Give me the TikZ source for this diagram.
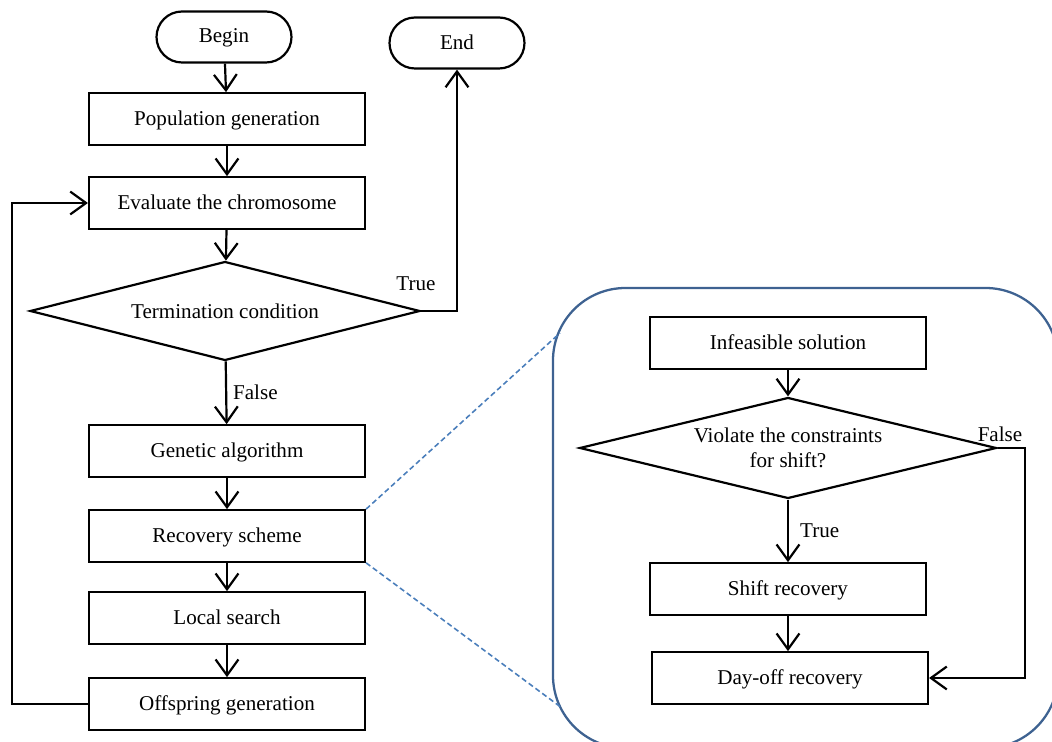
\documentclass[tikz,border=0pt]{standalone}
\usepackage{fontspec}
\setmainfont{Liberation Serif}
\usetikzlibrary{shapes.geometric,shapes.misc,arrows.meta}

\begin{document}
\begin{tikzpicture}[
        x=0.02cm, y=-0.02cm,
        font=\fontsize{12}{14}\selectfont,
        flow/.style={-{Straight Barb[length=9pt,width=13pt,line width=1.25pt]}, line width=1.25pt},
        procbox/.style={draw, line width=1.25pt, minimum width=5.52cm, minimum height=1.03cm, inner sep=0pt, text depth=0.25ex},
        terminal/.style={draw, rounded rectangle, line width=1.25pt, minimum width=2.7cm, minimum height=1.02cm, inner sep=0pt, text depth=0.25ex},
        decision/.style={draw, diamond, aspect=4, line width=1.25pt, inner sep=0pt, align=center},
        panel/.style={draw=panelblue, line width=1.3pt, rounded corners=1.45cm},
        zoomline/.style={draw=zoomblue, line width=0.9pt, dash pattern=on 3pt off 1.8pt}
    ]
    \definecolor{panelblue}{RGB}{62,98,145}
    \definecolor{zoomblue}{RGB}{74,126,187}
    \useasboundingbox (0,0) rectangle (1052,742);

    % main loop
    \node[terminal] (begin) at (224,37) {Begin};
    \node[terminal] (end) at (457,43) {End};
    \node[procbox] (pop) at (227,119) {Population generation};
    \node[procbox] (eval) at (227,203) {Evaluate the chromosome};
    \node[decision, minimum width=7.8cm, minimum height=1.98cm] (term) at (225,311) {Termination condition};
    \node[procbox] (gen) at (227,451) {Genetic algorithm};
    \node[procbox] (rec) at (227,536) {Recovery scheme};
    \node[procbox] (loc) at (227,618) {Local search};
    \node[procbox] (off) at (227,704) {Offspring generation};

    \draw[flow] (begin) -- (pop);
    \draw[flow] (pop) -- (eval);
    \draw[flow] (eval) -- (term);
    \draw[flow] (term) -- node[right] {False} (gen);
    \draw[flow] (gen) -- (rec);
    \draw[flow] (rec) -- (loc);
    \draw[flow] (loc) -- (off);
    \draw[flow] (term.east) -| (end.south);
    \node (lbltrue) at (416,284) {True};

    % back to evaluation
    \coordinate (loopx) at (12,704);
    \draw[flow] (off.west) -- (loopx) |- (eval.west);

    % recovery scheme detail
    \draw[panel] (553,288) rectangle (1058,748);
    \coordinate (pa) at (560,333);
    \coordinate (pb) at (562,708);
    \draw[zoomline] (rec.north east) -- (pa);
    \draw[zoomline] (rec.south east) -- (pb);

    \node[procbox] (inf) at (788,343) {Infeasible solution};
    \node[decision, minimum width=8.34cm, minimum height=2.02cm] (viol) at (788,448) {Violate the constraints\\for shift?};
    \node[procbox] (shift) at (788,589) {Shift recovery};
    \node[procbox] (dayoff) at (790,678) {Day-off recovery};

    \draw[flow] (inf) -- (viol);
    \draw[flow] (viol) -- node[right, xshift=3pt] {True} (shift);
    \draw[flow] (shift.south) -- (shift.south |- dayoff.north);
    \coordinate (fcorner) at (1025,448);
    \draw[flow] (viol.east) -- (fcorner) |- (dayoff.east);
    \node (lblfalse) at (1000,434) {False};
\end{tikzpicture}
\end{document}
